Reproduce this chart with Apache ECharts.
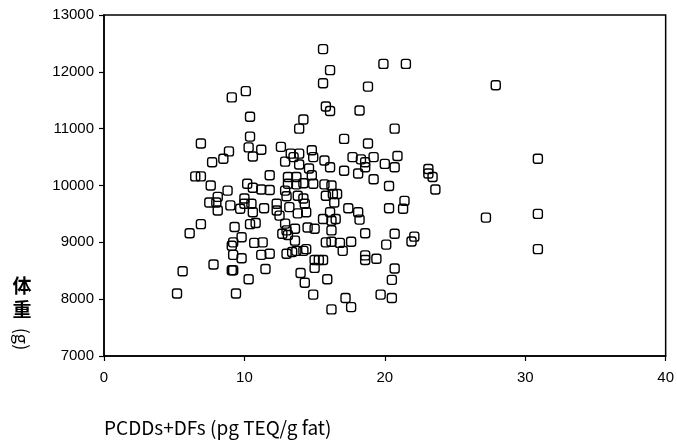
<!DOCTYPE html>
<html><head><meta charset="utf-8">
<script src="https://cdn.jsdelivr.net/npm/echarts@6/dist/echarts.min.js"></script>
<style>html,body{margin:0;padding:0;background:#fff}#c{width:677px;height:446px}</style>
</head><body><div id="c"></div>
<script>
const xTitle = 'PCDDs+DFs (pg TEQ/g fat)';
const yTitleChars = ['体', '重'];
const yUnit = '(g)';
const xTicks = [0, 10, 20, 30, 40];
const yTicks = [7000, 8000, 9000, 10000, 11000, 12000, 13000];
const xVals = [5.2,5.6,6.1,6.5,6.9,6.9,6.9,7.6,7.5,7.7,7.8,8.0,8.1,8.1,8.5,8.8,8.9,9.0,9.1,9.1,9.2,9.2,9.1,9.2,9.3,9.4,9.7,9.8,9.8,10.0,10.1,10.2,10.3,10.4,10.4,10.4,10.3,10.5,10.6,10.6,10.6,11.2,10.8,10.7,11.2,11.2,11.3,11.4,11.5,11.8,11.8,11.8,12.3,12.3,12.5,12.6,12.7,12.9,12.9,13.0,12.9,13.0,13.0,13.1,13.1,13.1,13.3,13.2,13.5,13.4,13.6,13.6,13.7,13.7,13.7,13.8,13.8,13.9,13.9,13.9,14.0,14.2,14.2,14.2,14.2,14.3,14.4,14.4,14.3,14.5,14.6,14.8,14.8,14.9,14.9,14.9,15.0,15.0,15.0,15.3,15.6,15.6,15.6,15.6,15.7,15.7,15.8,15.8,15.8,15.9,16.1,16.1,16.1,16.1,16.2,16.2,16.2,16.2,16.2,16.3,16.6,16.4,16.5,16.8,17.0,17.1,17.1,17.4,17.6,17.2,17.6,17.7,18.1,18.1,18.2,18.2,18.3,18.6,18.6,18.6,18.6,18.6,18.8,18.8,19.2,19.2,19.4,19.7,19.9,20.0,20.1,20.3,20.3,20.5,20.5,20.7,20.7,20.7,20.7,20.9,21.4,21.3,21.5,21.9,22.1,23.1,23.1,23.4,23.6,27.2,27.9,30.9,30.9,30.9,10.0];
const yVals = [8100,8490,9160,10160,10160,10740,9320,10000,9700,10410,8610,9700,9560,9800,10470,9910,10600,9650,11550,8510,8510,9000,8940,8780,9270,8100,9590,9090,8720,9770,11660,10030,10670,11210,10860,9320,8350,9680,9530,10510,9960,9930,9340,8990,10630,8780,9000,9600,8530,10180,9920,8800,9680,9560,9470,10680,9150,10420,9910,9810,9330,9210,8800,10150,10030,9130,10560,9620,10500,8830,9240,9030,10150,10020,8850,9820,9510,10370,10560,11000,8460,11160,10040,9770,8850,9680,9530,8880,8290,9260,10300,10620,10180,10500,10030,8080,9240,8690,8550,8690,8690,12400,11800,9410,10440,10020,11390,9820,9000,8350,11310,9530,12030,10320,9380,9210,9010,7820,10000,9850,9850,9700,9410,8990,8850,10820,10260,9600,9010,8020,7860,10500,10210,9530,9400,11320,10460,10410,10320,9160,8770,8690,11740,10740,10500,10110,8710,8080,12140,10380,8960,9990,9600,8340,8020,10320,11000,9150,8540,10520,9730,9590,12140,9015,9100,10290,10210,10150,9930,9435,11765,10470,9500,8880,9680];

const points = xVals.map((x, i) => [x, yVals[i]]);
const chart = echarts.init(document.getElementById('c'), null, {renderer: 'canvas'});
const lab = {color: '#000', fontFamily: 'Liberation Sans, Arial, sans-serif', fontSize: 15, formatter: v => String(v)};
chart.setOption({
  animation: false,
  backgroundColor: '#fff',
  grid: {left: 104, right: 10, top: 15, bottom: 90, show: true, borderColor: '#000', borderWidth: 1.5, backgroundColor: 'transparent'},
  xAxis: {
    type: 'value', min: xTicks[0], max: xTicks[xTicks.length - 1], interval: 10,
    axisLine: {show: true, lineStyle: {color: '#000', width: 1.5}},
    axisTick: {show: true, length: 5, lineStyle: {color: '#000', width: 1.2}},
    splitLine: {show: false},
    axisLabel: Object.assign({margin: 14}, lab)
  },
  yAxis: {
    type: 'value', min: yTicks[0], max: yTicks[yTicks.length - 1], interval: 1000,
    axisLine: {show: true, lineStyle: {color: '#000', width: 1.5}},
    axisTick: {show: true, length: 5, lineStyle: {color: '#000', width: 1.2}},
    splitLine: {show: false},
    axisLabel: Object.assign({margin: 10}, lab)
  },
  graphic: [
    {type: 'text', x: 104, y: 428, style: {text: xTitle, fill: '#000', font: '19px "Noto Sans CJK JP", sans-serif', verticalAlign: 'middle'}},
    {type: 'text', x: 22, y: 286, style: {text: yTitleChars[0], fill: '#000', font: 'bold 19px "Noto Sans CJK JP", sans-serif', align: 'center', verticalAlign: 'middle'}},
    {type: 'text', x: 22, y: 310, style: {text: yTitleChars[1], fill: '#000', font: 'bold 19px "Noto Sans CJK JP", sans-serif', align: 'center', verticalAlign: 'middle'}},
    {type: 'text', x: 22, y: 339, rotation: -Math.PI / 2, style: {text: yUnit, fill: '#000', font: '18px "Noto Sans CJK JP", sans-serif', align: 'center', verticalAlign: 'middle'}}
  ],
  series: [{
    type: 'scatter',
    data: points,
    symbol: 'roundRect',
    symbolSize: 9,
    itemStyle: {color: 'rgba(255,255,255,0)', borderColor: '#000', borderWidth: 1.4, opacity: 1}
  }]
});
</script></body></html>
